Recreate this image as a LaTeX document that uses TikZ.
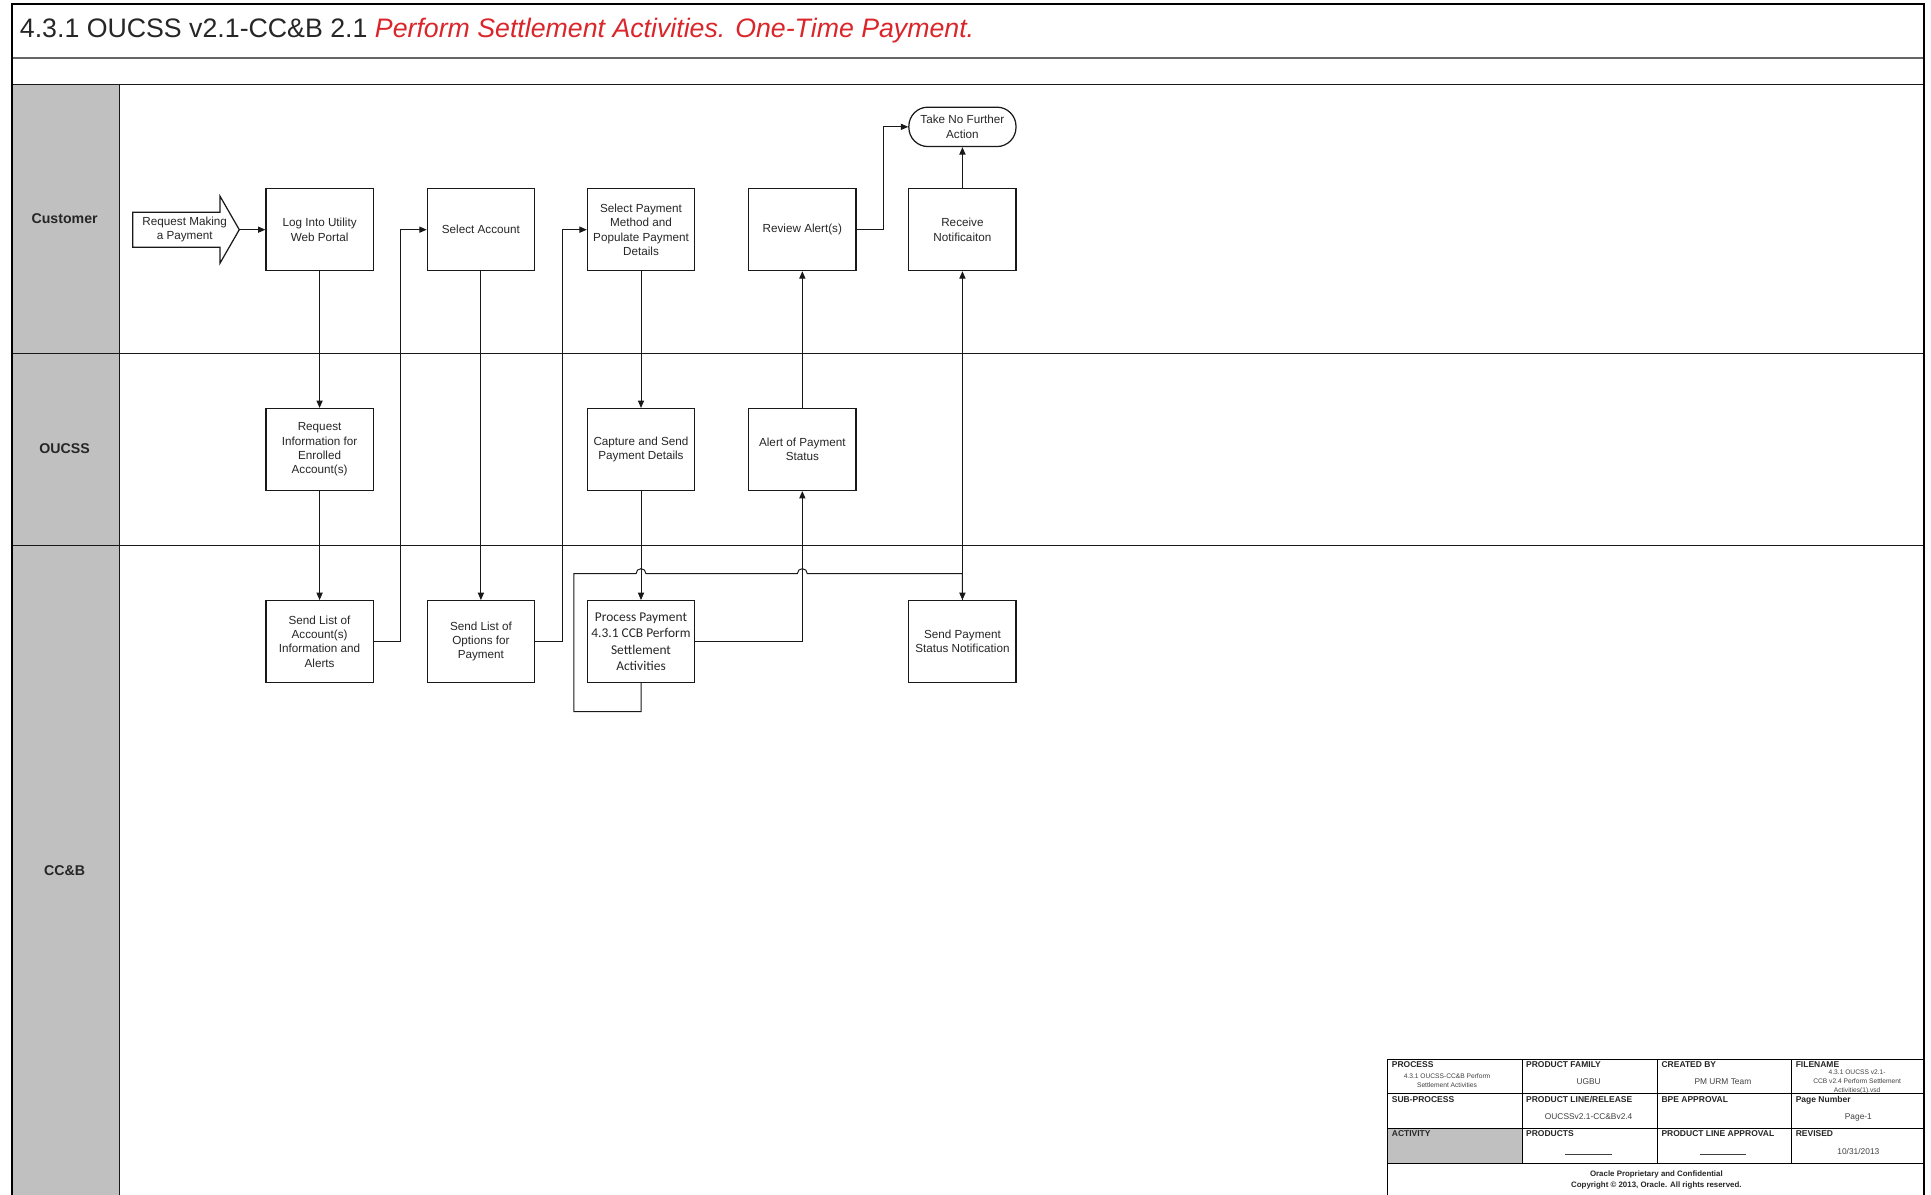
\documentclass[tikz,border=0pt]{standalone}
\usepackage{fontspec}
\setmainfont{Liberation Sans}
\newfontfamily\calibfont{Carlito}
\usetikzlibrary{arrows.meta}
\definecolor{titlered}{RGB}{218,37,42}
\definecolor{lanegray}{RGB}{192,192,192}
\begin{document}
\begin{tikzpicture}[x=1pt,y=-1pt,
  box/.style={draw=black!90, line width=1pt, minimum width=87pt, minimum height=66.5pt, inner sep=1pt, align=center, font=\fontsize{9.5}{11.6}\selectfont, text=black!85},
  arr/.style={draw=black!90, line width=0.8pt, -{Triangle[length=6pt,width=5pt]}},
  ln/.style={draw=black!90, line width=0.8pt},
  lanelbl/.style={font=\bfseries\fontsize{11.5}{13}\selectfont, text=black!85},
  tbl/.style={anchor=north west, inner sep=0pt, font=\bfseries\fontsize{6.9}{8}\selectfont, text=black!85},
  tbv/.style={inner sep=0pt, align=center, font=\fontsize{6.8}{8}\selectfont, text=black!75},
]
\useasboundingbox (0,0) rectangle (1568,970);
% lanes
\fill[lanegray] (9.5,69) rectangle (97,975);
\draw[ln] (97,69) -- (97,975);
\draw[ln] (9.5,69) -- (1562.5,69);
\draw[ln] (9.5,287) -- (1562.5,287);
\draw[ln] (9.5,443) -- (1562.5,443);
\draw[draw=black!60, line width=1.3pt] (9.5,47) -- (1562.5,47);
\draw[line width=1.8pt] (9.5,975) -- (9.5,3) -- (1562.5,3) -- (1562.5,975);
% title
\node[anchor=base west, inner sep=0pt, font=\fontsize{21.7}{24}\selectfont, text=black!85] (title) at (16,30.5)
  {4.3.1 OUCSS v2.1-CC\&B 2.1 \textcolor{titlered}{\itshape Perform Settlement Activities. One-Time Payment.}};
% lane labels
\node[lanelbl] (lcust) at (52.5,177.5) {Customer};
\node[lanelbl] (loucss) at (52.5,364.5) {OUCSS};
\node[lanelbl] (lccb) at (52.5,707) {CC\&B};
% start arrow
\node[inner sep=0pt, align=center, font=\fontsize{9.5}{11.6}\selectfont, text=black!85] (req) at (150,186.5) {Request Making\\a Payment};
\draw[line width=1pt, draw=black!90] (req.center) ++(-42.3,-14.2) -- ++(70.9,0) -- ++(0,-13.1) -- ++(15.7,27.3) -- ++(-15.7,27.3) -- ++(0,-13.1) -- ++(-70.9,0) -- cycle;
% customer lane
\node[box] (login) at (259.5,186.5) {Log Into Utility\\Web Portal};
\node[box] (selacc) at (390.5,186.5) {Select Account};
\node[box] (selpay) at (520.5,186.5) {Select Payment\\Method and\\Populate Payment\\Details};
\node[box] (review) at (651.5,186.5) {Review Alert(s)};
\node[box] (recv) at (781.5,186.5) {Receive\\Notificaiton};
\node[box, minimum height=32pt, rounded corners=15.5pt] (tnfa) at (781.5,103) {Take No Further\\Action};
% oucss lane
\node[box] (reqinfo) at (259.5,365) {Request\\Information for\\Enrolled\\Account(s)};
\node[box] (capture) at (520.5,365) {Capture and Send\\Payment Details};
\node[box] (alertps) at (651.5,365) {Alert of Payment\\Status};
% ccb lane
\node[box] (sla) at (259.5,521) {Send List of\\Account(s)\\Information and\\Alerts};
\node[box] (slo) at (390.5,521) {Send List of\\Options for\\Payment};
\node[box, font=\calibfont\fontsize{10.9}{13.3}\selectfont] (proc) at (520.5,521) {Process Payment\\4.3.1 CCB Perform\\Settlement\\Activities};
\node[box] (sendnotif) at (781.5,521) {Send Payment\\Status Notification};
% connectors
\draw[arr] ([xshift=44.3pt]req.center) -- (login.west);
\draw[arr] (login.south) -- (reqinfo.north);
\draw[arr] (reqinfo.south) -- (sla.north);
\draw[arr] (sla.east) -- ++(22,0) |- (selacc.west);
\draw[arr] (selacc.south) -- (slo.north);
\draw[arr] (slo.east) -- ++(22,0) |- (selpay.west);
\draw[arr] (selpay.south) -- (capture.north);
\draw[arr] (capture.south) -- (proc.north);
\draw[arr] (proc.east) -| (alertps.south);
\draw[arr] (alertps.north) -- (review.south);
\draw[arr] (review.east) -- ++(22,0) |- (tnfa.west);
\draw[arr] (recv.north) -- (tnfa.south);
\draw[arr] (proc.south) -- ++(0,23) -- ++(-54.5,0) -- ++(0,-112) -- ++(50.5,0)
  arc[start angle=180, end angle=0, radius=4pt] -- ++(123,0)
  arc[start angle=180, end angle=0, radius=4pt] -| (sendnotif.north);
\draw[arr] (sendnotif.north) -- (recv.south);
% title block
\fill[white] (1127,860) rectangle (1562.5,975);
\fill[lanegray] (1127,916) rectangle (1236,945);
\draw[line width=0.9pt] (1127,975) -- (1127,860) -- (1562.5,860);
\foreach \yy in {888,916,945} \draw[line width=0.9pt] (1127,\yy) -- (1562.5,\yy);
\foreach \xx in {1236,1346,1455} \draw[line width=0.9pt] (\xx,860) -- (\xx,945);
\draw[line width=1.8pt] (1562.5,855) -- (1562.5,975);
\node[tbl] (tprocess) at (1130,862) {PROCESS};
\node[tbl] (tfamily) at (1239,862) {PRODUCT FAMILY};
\node[tbl] (tcreated) at (1349,862) {CREATED BY};
\node[tbl] (tfile) at (1458,862) {FILENAME};
\node[tbl] (tsub) at (1130,890) {SUB-PROCESS};
\node[tbl] (tline) at (1239,890) {PRODUCT LINE/RELEASE};
\node[tbl] (tbpe) at (1349,890) {BPE APPROVAL};
\node[tbl] (tpage) at (1458,890) {Page Number};
\node[tbl] (tact) at (1130,918) {ACTIVITY};
\node[tbl] (tprod) at (1239,918) {PRODUCTS};
\node[tbl] (tpla) at (1349,918) {PRODUCT LINE APPROVAL};
\node[tbl] (trev) at (1458,918) {REVISED};
\node[tbv, font=\fontsize{5.4}{6.8}\selectfont] (vprocess) at (1175,877.5) {4.3.1 OUCSS-CC\&B Perform\\Settlement Activities};
\node[tbv] (vfamily) at (1290,878.5) {UGBU};
\node[tbv] (vcreated) at (1399,878.5) {PM URM Team};
\node[tbv, font=\fontsize{5.4}{7.6}\selectfont] (vfile) at (1508,878.5) {4.3.1 OUCSS v2.1-\\CCB v2.4 Perform Settlement\\Activities(1).vsd};
\node[tbv] (vline) at (1290,906.5) {OUCSSv2.1-CC\&Bv2.4};
\node[tbv] (vpage) at (1509,907) {Page-1};
\node[tbv] (vprod) at (1290,937) {\rule{38pt}{0.5pt}};
\node[tbv] (vpla) at (1399,937) {\rule{38pt}{0.5pt}};
\node[tbv] (vrev) at (1509,935) {10/31/2013};
\node[tbv, font=\bfseries\fontsize{6.4}{9}\selectfont, text=black!85] (vfoot) at (1345,958.5) {Oracle Proprietary and Confidential\\Copyright \textcopyright{} 2013, Oracle. All rights reserved.};
\end{tikzpicture}
\end{document}
